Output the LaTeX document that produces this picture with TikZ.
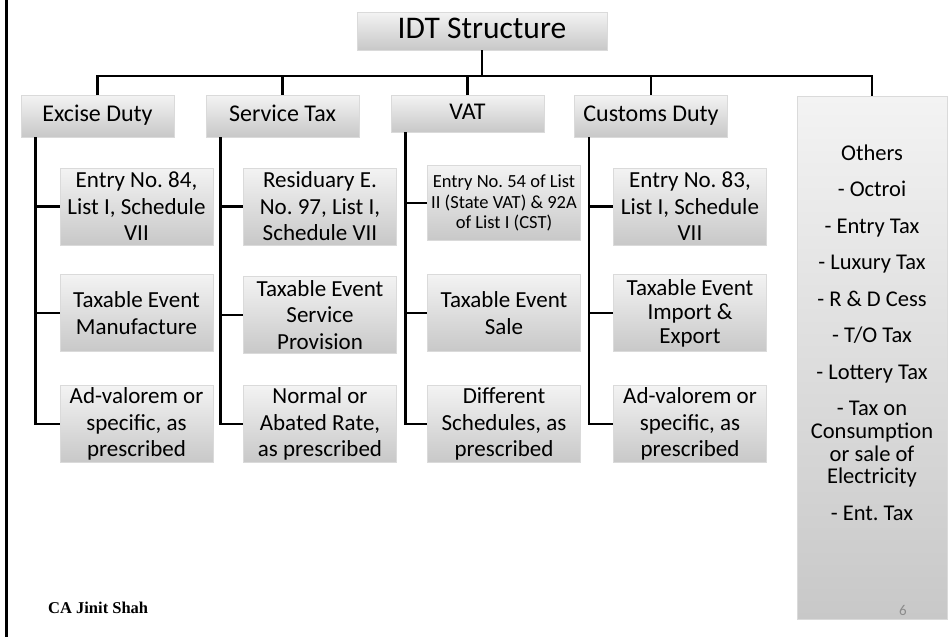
\documentclass[tikz,border=0pt]{standalone}
\usepackage{fontspec}
\setmainfont{Carlito}
\newfontfamily\footfont{Liberation Serif}
\frenchspacing
\definecolor{boxtop}{RGB}{243,243,243}
\definecolor{boxbot}{RGB}{200,200,200}
\definecolor{boxedge}{RGB}{218,218,218}
\definecolor{pagegray}{RGB}{140,140,140}
\begin{document}
\begin{tikzpicture}[x=1pt,y=-1pt,
  gbox/.style={rectangle, inner sep=0pt, top color=boxtop, bottom color=boxbot, draw=boxedge, line width=0.6pt, align=flush center},
  head/.style={gbox, minimum width=153pt, minimum height=42pt, text height=17pt, text depth=6pt, font=\frenchspacing\fontsize{24}{28}\selectfont},
  child/.style={gbox, minimum width=153pt, minimum height=77pt, text width=153pt, font=\frenchspacing\fontsize{23}{26.5}\selectfont},
  conn/.style={line width=2.5pt, black},
]
\useasboundingbox (0,0) rectangle (950,637);
% left border
\draw[line width=2.5pt] (6.5,0) -- (6.5,637);

% title
\node[gbox, minimum width=250pt, minimum height=38pt, text height=22pt, text depth=7pt, font=\fontsize{31.5}{36}\selectfont] (title) at (482,31) {IDT Structure};

% headers
\node[head] (ex) at (97.5,116) {Excise Duty};
\node[head] (st) at (282.5,116) {Service Tax};
\node[head, minimum height=37pt] (vat) at (467.5,113.5) {VAT};
\node[head] (cd) at (651,116) {Customs Duty};
\node[gbox, minimum width=150pt, minimum height=523pt] (oth) at (872,357.5) {};
\node[anchor=north, inner sep=0pt, align=flush center, font=\frenchspacing\fontsize{22.5}{22.7}\selectfont] (othtxt) at (872,144.5)
  {Others\\[13.8pt]- Octroi\\[13.8pt]- Entry Tax\\[13.8pt]- Luxury Tax\\[13.8pt]- R \& D Cess\\[13.8pt]- T/O Tax\\[13.8pt]- Lottery Tax\\[13.8pt]- Tax on\\Consumption\\or sale of\\Electricity\\[13.8pt]- Ent. Tax};

% children
\node[child] (ex1) at (136.5,206.5) {Entry No. 84,\\List I, Schedule\\VII};
\node[child] (ex2) at (136.5,313) {Taxable Event\\Manufacture};
\node[child] (ex3) at (136.5,424) {Ad-valorem or\\specific, as\\prescribed};

\node[child] (st1) at (320,206.5) {Residuary E.\\No. 97, List I,\\Schedule VII};
\node[child] (st2) at (320,315) {Taxable Event\\Service\\Provision};
\node[child] (st3) at (320,424) {Normal or\\Abated Rate,\\as prescribed};

\node[child, minimum height=75pt, font=\frenchspacing\fontsize{18.5}{20.5}\selectfont] (vat1) at (504,203) {Entry No. 54 of List\\II (State VAT) \& 92A\\of List I (CST)};
\node[child] (vat2) at (504,313) {Taxable Event\\Sale};
\node[child] (vat3) at (504,424) {Different\\Schedules, as\\prescribed};

\node[child] (cd1) at (690,206.5) {Entry No. 83,\\List I, Schedule\\VII};
\node[child, font=\frenchspacing\fontsize{23}{24}\selectfont] (cd2) at (690,313) {Taxable Event\\Import \&\\Export};
\node[child] (cd3) at (690,424) {Ad-valorem or\\specific, as\\prescribed};

% bus
\coordinate (bus) at (482,76);
\draw[conn] (title.south) -- (bus);
\draw[conn] (ex.north) -- (ex.north |- bus) -- (oth.north |- bus) -- (oth.north);
\draw[conn] (st.north |- bus) -- (st.north);
\draw[conn] (vat.north |- bus) -- (vat.north);
\draw[conn] (cd.north |- bus) -- (cd.north);

% child connectors
\foreach \h/\c in {ex/ex, st/st, vat/vat, cd/cd}{
  \coordinate (\h v) at ([xshift=15pt]\h.south west);
  \draw[conn] (\h v) |- (\c3.west);
  \draw[conn] (\c1.west -| \h v) -- (\c1.west);
  \draw[conn] (\c2.west -| \h v) -- (\c2.west);
}

% footer
\node[anchor=base west, inner sep=0pt, font=\footfont\bfseries\fontsize{16.5}{18}\selectfont] (foot) at (48,613) {CA Jinit Shah};
\node[anchor=base, inner sep=0pt, text=pagegray, font=\fontsize{15}{16}\selectfont] (pg) at (903,615) {6};
\end{tikzpicture}
\end{document}
